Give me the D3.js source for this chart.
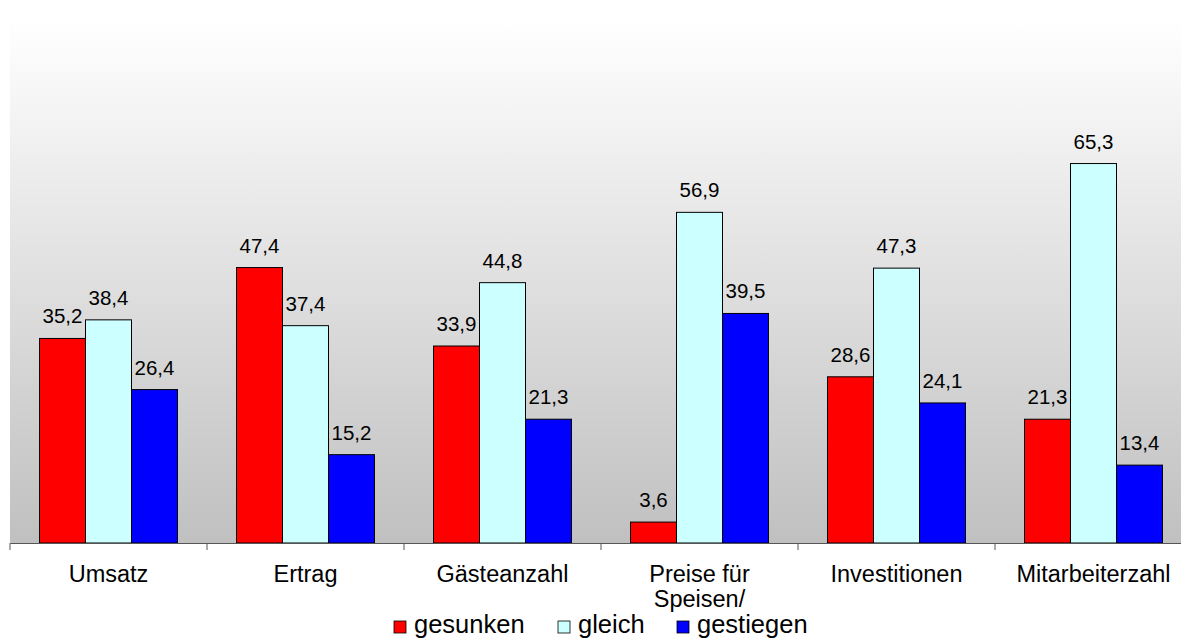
<!DOCTYPE html>
<html><head><meta charset="utf-8">
<script src="https://cdn.jsdelivr.net/npm/d3@7"></script>
<style>html,body{margin:0;padding:0;background:#fff;} svg{display:block;} text{font-family:'Liberation Sans', Arial, sans-serif;}</style>
</head><body>
<svg id="chart" width="1181" height="642"></svg>
<script>
const categories = ["Umsatz", "Ertrag", "Gästeanzahl", "Preise für|Speisen/", "Investitionen", "Mitarbeiterzahl"];
const seriesNames = ["gesunken", "gleich", "gestiegen"];
const gesunken = [35.2, 47.4, 33.9, 3.6, 28.6, 21.3];
const gleich = [38.4, 37.4, 44.8, 56.9, 47.3, 65.3];
const gestiegen = [26.4, 15.2, 21.3, 39.5, 24.1, 13.4];
const colors = ["#ff0000", "#ccffff", "#0000ff"];
const seriesValues = [gesunken, gleich, gestiegen];

(function() {
const svg = d3.select("#chart");
const left = 10, plotTop = 20, bottom = 543;
const catW = 197;
const plotRight = left + catW * categories.length;

const x0 = d3.scaleBand().domain(categories).range([left, plotRight]).padding(0);
const barW = catW * 0.2335;
const gap = catW - barW * 3;
const x1 = d3.scaleBand().domain(seriesNames).range([gap / 2, catW - gap / 2]).padding(0);
const y = d3.scaleLinear().domain([0, 90]).range([bottom, plotTop]);

const defs = svg.append("defs");
const grad = defs.append("linearGradient").attr("id", "bg").attr("x1", 0).attr("y1", 0).attr("x2", 0).attr("y2", 1);
grad.append("stop").attr("offset", "0%").attr("stop-color", "#ffffff");
grad.append("stop").attr("offset", "100%").attr("stop-color", "#c0c0c0");

svg.append("rect").attr("x", left).attr("y", plotTop).attr("width", plotRight - left).attr("height", bottom - plotTop).attr("fill", "url(#bg)");

const groups = svg.append("g").selectAll("g").data(categories).join("g")
  .attr("transform", d => `translate(${x0(d)},0)`);

groups.selectAll("rect").data((d, i) => seriesNames.map((s, j) => ({s, v: seriesValues[j][i], c: colors[j]})))
  .join("rect")
  .attr("x", d => x1(d.s))
  .attr("width", x1.bandwidth())
  .attr("y", d => y(d.v))
  .attr("height", d => bottom - y(d.v))
  .attr("fill", d => d.c)
  .attr("stroke", "#000").attr("stroke-width", 1);

groups.selectAll("text.val").data((d, i) => seriesNames.map((s, j) => ({s, v: seriesValues[j][i]})))
  .join("text").attr("class", "val")
  .attr("x", d => x1(d.s) + x1.bandwidth() / 2)
  .attr("y", d => y(d.v) - 15)
  .attr("text-anchor", "middle")
  .attr("font-size", 20.5).attr("fill", "#000")
  .text(d => d3.format(".1f")(d.v).replace(".", ","));

const axis = d3.axisBottom(x0).tickSize(0).tickFormat("");
const ax = svg.append("g").attr("transform", `translate(0,${bottom})`).call(axis);
ax.select(".domain").attr("stroke", "#555");
svg.append("g").selectAll("line").data(d3.range(categories.length + 1)).join("line")
  .attr("x1", i => left + i * catW).attr("x2", i => left + i * catW)
  .attr("y1", bottom).attr("y2", bottom + 7).attr("stroke", "#555");

const cl = svg.append("g").selectAll("text").data(categories).join("text")
  .attr("x", d => x0(d) + x0.bandwidth() / 2)
  .attr("y", 582)
  .attr("text-anchor", "middle")
  .attr("font-size", 23.5).attr("fill", "#000");
cl.each(function(d) {
  const parts = d.split("|");
  d3.select(this).selectAll("tspan").data(parts).join("tspan")
    .attr("x", x0(d) + x0.bandwidth() / 2)
    .attr("dy", (p, k) => k === 0 ? 0 : 25)
    .text(p => p);
});

const legX = [394, 558, 677];
const leg = svg.append("g").selectAll("g").data(seriesNames).join("g")
  .attr("transform", (d, i) => `translate(${legX[i]},621)`);
leg.append("rect").attr("width", 12).attr("height", 12).attr("fill", (d, i) => colors[i]).attr("stroke", "#000").attr("stroke-width", 0.8);
leg.append("text").attr("x", 20).attr("y", 12).attr("font-size", 25.5).text(d => d);
})();
</script>
</body></html>
